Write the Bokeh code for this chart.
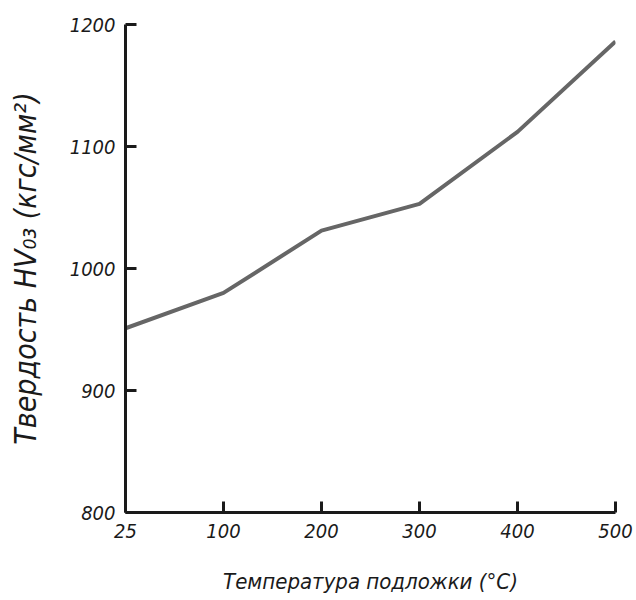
from bokeh.plotting import figure
from bokeh.models import Range1d, FixedTicker
from bokeh.embed import file_html
from bokeh.resources import INLINE

# Substrate temperature (°C) and HV0.3 hardness (kgf/mm²)
temperatures = ["25", "100", "200", "300", "400", "500"]
hardness = [951, 980, 1031, 1053, 1112, 1186]
y_ticks = [800, 900, 1000, 1100, 1200]

xpos = list(range(len(temperatures)))

FONT = "'DejaVu Sans Condensed', Roboto"

p = figure(
    width=636, height=600,
    x_range=Range1d(0, len(temperatures) - 1),
    y_range=Range1d(800, 1200),
    output_backend="svg", toolbar_location=None,
    min_border_left=125, min_border_right=21,
    min_border_top=24, min_border_bottom=88,
)
p.outline_line_color = None
p.grid.visible = False
p.background_fill_color = "white"
p.border_fill_color = "white"

p.line(xpos, hardness, line_color="#666666", line_width=4)

for ax in (p.xaxis[0], p.yaxis[0]):
    ax.axis_line_color = "#1a1a1a"
    ax.axis_line_width = 3
    ax.major_tick_line_color = "#1a1a1a"
    ax.major_tick_line_width = 3
    ax.major_tick_in = 11
    ax.major_tick_out = 0
    ax.minor_tick_line_color = None
    ax.major_label_text_font = FONT
    ax.major_label_text_font_style = "italic"
    ax.major_label_text_font_size = "20px"
    ax.major_label_text_color = "#1a1a1a"
    ax.axis_label_text_font = FONT
    ax.axis_label_text_font_style = "italic"
    ax.axis_label_text_color = "#1a1a1a"

p.xaxis.ticker = FixedTicker(ticks=xpos)
p.xaxis.major_label_overrides = {i: t for i, t in zip(xpos, temperatures)}
p.xaxis.major_label_standoff = 11
p.xaxis.axis_label = "Температура подложки (°C)"
p.xaxis.axis_label_text_font_size = "22px"
p.xaxis.axis_label_standoff = 28

p.yaxis.ticker = FixedTicker(ticks=y_ticks)
p.yaxis.major_label_standoff = 10
p.yaxis.axis_label = "Твердость HV₀₃ (кгс/мм²)"
p.yaxis.axis_label_text_font_size = "30px"
p.yaxis.axis_label_standoff = 24

open("out.html", "w").write(file_html(p, INLINE))
